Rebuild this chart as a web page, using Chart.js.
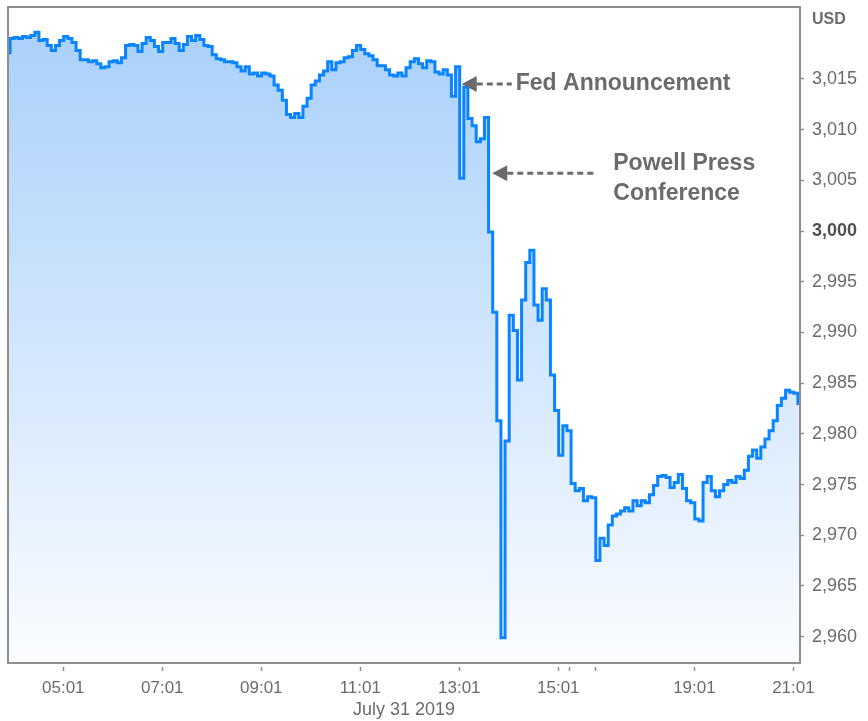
<!DOCTYPE html>
<html>
<head>
<meta charset="utf-8">
<title>S&P 500 futures, July 31 2019</title>
<script src="https://cdn.jsdelivr.net/npm/chart.js@4.4.1/dist/chart.umd.min.js"></script>
<style>
  html, body { margin: 0; padding: 0; background: #fff; }
  canvas { display: block; }
</style>
</head>
<body>
<canvas id="chart" width="868" height="721"></canvas>
<script>
// one price every 5 trading minutes
const sampleMinutes = 5;
const prices = [
  3017.6, 3019.0, 3019.1, 3019.0, 3019.2, 3019.1, 3019.3, 3019.6, 3018.8, 3018.9,
  3018.3, 3017.8, 3018.3, 3018.8, 3019.2, 3019.0, 3018.6, 3017.8, 3016.9, 3016.9,
  3016.7, 3016.8, 3016.5, 3016.1, 3016.2, 3016.7, 3016.8, 3016.6, 3017.1, 3018.3,
  3018.4, 3018.3, 3017.7, 3018.5, 3019.1, 3018.8, 3018.2, 3017.7, 3018.6, 3018.6,
  3019.0, 3018.5, 3017.8, 3018.4, 3019.2, 3018.8, 3019.3, 3018.9, 3018.3, 3018.2,
  3017.4, 3017.0, 3016.9, 3016.7, 3016.7, 3016.6, 3016.2, 3015.8, 3016.2, 3015.5,
  3015.6, 3015.3, 3015.6, 3015.5, 3015.3, 3014.4, 3013.9, 3012.9, 3011.5, 3011.2,
  3011.6, 3011.2, 3012.3, 3013.1, 3014.4, 3014.8, 3015.4, 3015.8, 3016.7, 3015.9,
  3016.6, 3016.7, 3017.1, 3017.2, 3017.8, 3018.3, 3017.9, 3017.5, 3017.3, 3016.9,
  3016.3, 3016.3, 3015.9, 3015.4, 3015.3, 3015.6, 3015.3, 3016.1, 3016.7, 3017.0,
  3016.5, 3016.1, 3016.8, 3016.7, 3015.7, 3015.5, 3015.9, 3015.4, 3013.3, 3016.2,
  3005.2, 3014.2, 3011.1, 3010.4, 3008.8, 3009.1, 3011.2, 2999.9, 2992.0, 2981.3,
  2959.9, 2979.3, 2991.7, 2990.2, 2985.3, 2993.2, 2996.9, 2998.1, 2992.7, 2991.2,
  2994.3, 2993.2, 2985.8, 2982.3, 2977.9, 2980.8, 2980.3, 2975.1, 2974.4, 2974.6,
  2973.4, 2973.8, 2973.7, 2967.5, 2969.7, 2969.0, 2971.0, 2971.9, 2972.1, 2972.4,
  2972.7, 2972.4, 2973.4, 2972.9, 2973.4, 2973.2, 2974.0, 2974.9, 2975.8, 2975.9,
  2975.7, 2974.7, 2975.2, 2976.0, 2974.6, 2973.4, 2973.2, 2971.6, 2971.4, 2975.2,
  2975.8, 2974.4, 2973.8, 2974.4, 2975.0, 2975.4, 2975.2, 2975.8, 2975.6, 2976.4,
  2977.8, 2978.4, 2977.6, 2978.7, 2979.5, 2980.3, 2981.3, 2982.8, 2983.5, 2984.3,
  2984.1, 2984.0, 2983.0
];

// x axis = trading minutes since the start of the window (market breaks left out)
const xRange = [0, 960];
const tickMinutes = [67, 187, 307, 427, 547, 667, 681, 712, 832, 952];
const tickLabels = ['05:01', '07:01', '09:01', '11:01', '13:01', '15:01', '', '', '19:01', '21:01'];
const dateLabel = 'July 31 2019';

const yRange = [2957.4, 3022.1];
const priceTicks = [2960, 2965, 2970, 2975, 2980, 2985, 2990, 2995, 3000, 3005, 3010, 3015];
const unitLabel = 'USD';

const notes = [
  { lines: ['Fed Announcement'], minute: 550, price: 3014.5 },
  { lines: ['Powell Press', 'Conference'], minute: 587, price: 3005.7 }
];

const grey = '#6b6b6b';
const fontFamily = '"Liberation Sans", Arial, sans-serif';
Chart.defaults.font.family = fontFamily;
Chart.defaults.color = grey;

const points = prices.map((p, i) => ({ x: i * sampleMinutes, y: p }));

// box round the plot, unit label and the two arrows
const extras = {
  id: 'extras',
  afterDraw(chart) {
    const { ctx, chartArea: a, scales } = chart;
    ctx.save();
    ctx.strokeStyle = '#8e8e8e';
    ctx.lineWidth = 2;
    ctx.strokeRect(a.left, a.top, a.right - a.left, a.bottom - a.top);

    ctx.fillStyle = grey;
    ctx.font = 'bold 16px ' + fontFamily;
    ctx.textBaseline = 'middle';
    ctx.fillText(unitLabel, a.right + 12, 20);

    const layout = [
      { gap: 54, lineEnd: 50, dy: [0] },
      { gap: 121, lineEnd: 105, dy: [-10, 20] }
    ];
    notes.forEach((n, k) => {
      const x = scales.x.getPixelForValue(n.minute);
      const y = scales.y.getPixelForValue(n.price);
      const l = layout[k];
      ctx.fillStyle = grey;
      ctx.beginPath();
      ctx.moveTo(x, y);
      ctx.lineTo(x + 15, y - 8);
      ctx.lineTo(x + 15, y + 8);
      ctx.closePath();
      ctx.fill();
      ctx.strokeStyle = grey;
      ctx.lineWidth = 3;
      ctx.setLineDash([6, 4]);
      ctx.beginPath();
      ctx.moveTo(x + 15, y);
      ctx.lineTo(x + l.lineEnd, y);
      ctx.stroke();
      ctx.setLineDash([]);
      ctx.font = 'bold 23px ' + fontFamily;
      ctx.textBaseline = 'middle';
      n.lines.forEach((t, j) => ctx.fillText(t, x + l.gap, y + l.dy[j]));
    });
    ctx.restore();
  }
};

new Chart(document.getElementById('chart'), {
  type: 'line',
  data: {
    datasets: [{
      data: points,
      borderColor: '#0a84ff',
      borderWidth: 3,
      borderJoinStyle: 'miter',
      stepped: 'middle',
      pointRadius: 0,
      fill: 'start',
      backgroundColor: (c) => {
        const area = c.chart.chartArea;
        if (!area) return 'rgba(0,0,0,0)';
        const g = c.chart.ctx.createLinearGradient(0, area.top, 0, area.bottom);
        g.addColorStop(0, '#a7cffa');
        g.addColorStop(1, '#fafcff');
        return g;
      }
    }]
  },
  options: {
    responsive: false,
    animation: false,
    devicePixelRatio: 1,
    layout: { padding: { left: 8, top: 7, right: 0, bottom: 0 } },
    plugins: { legend: { display: false }, tooltip: { enabled: false } },
    scales: {
      x: {
        type: 'linear',
        min: xRange[0],
        max: xRange[1],
        afterBuildTicks: (s) => { s.ticks = tickMinutes.map(v => ({ value: v })); },
        afterFit: (s) => { s.height = 58; s.paddingLeft = 0; s.paddingRight = 0; },
        border: { display: false },
        grid: {
          drawOnChartArea: false,
          tickLength: 8,
          tickBorderDash: [0, 4, 4, 0],
          tickColor: '#8e8e8e',
          tickWidth: 1.5
        },
        ticks: {
          autoSkip: false,
          maxRotation: 0,
          padding: 7,
          font: { size: 17 },
          color: grey,
          callback: (v) => tickLabels[tickMinutes.indexOf(v)]
        },
        title: {
          display: true,
          text: dateLabel,
          color: grey,
          font: { size: 18 },
          padding: { top: 0, bottom: 0 }
        }
      },
      y: {
        position: 'right',
        min: yRange[0],
        max: yRange[1],
        afterBuildTicks: (s) => { s.ticks = priceTicks.map(v => ({ value: v })); },
        afterFit: (s) => { s.width = 68; s.paddingTop = 0; s.paddingBottom = 0; },
        border: { display: false },
        grid: {
          drawOnChartArea: false,
          tickLength: 4,
          tickColor: '#8e8e8e',
          tickWidth: 1.5
        },
        ticks: {
          padding: 8,
          color: (c) => c.tick && c.tick.value === 3000 ? '#505050' : grey,
          font: (c) => ({ size: 18, weight: c.tick && c.tick.value === 3000 ? 'bold' : 'normal' }),
          callback: (v) => v.toLocaleString('en-US')
        }
      }
    }
  },
  plugins: [extras]
});
</script>
</body>
</html>
